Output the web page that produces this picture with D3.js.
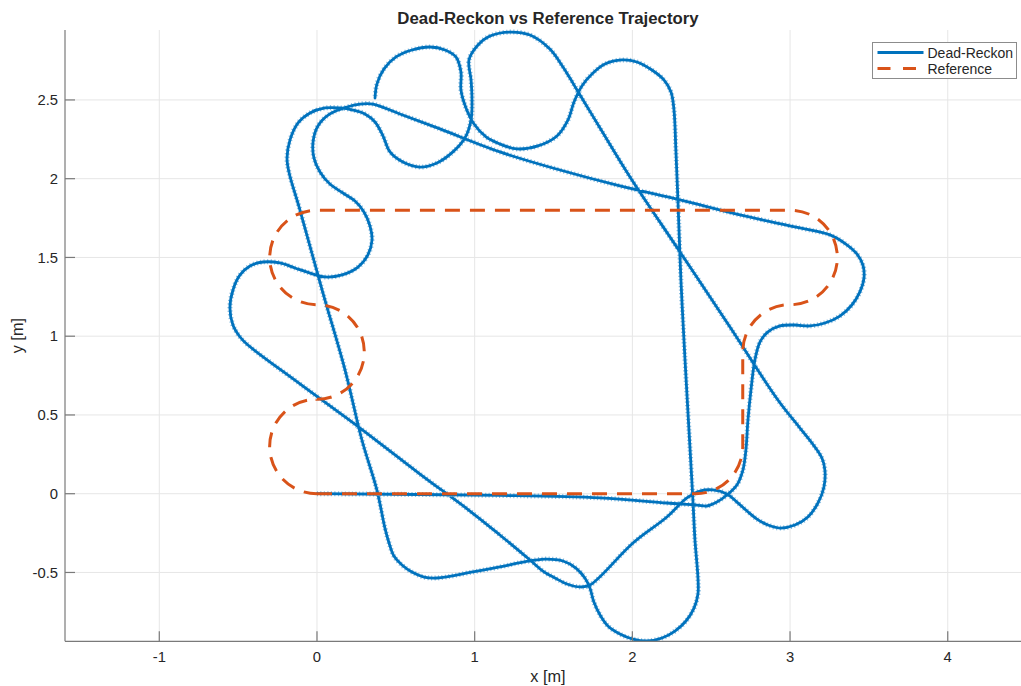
<!DOCTYPE html>
<html>
<head>
<meta charset="utf-8">
<script src="https://cdn.jsdelivr.net/npm/d3@7"></script>
<style>
  html, body { margin: 0; padding: 0; background: #ffffff; }
  svg { display: block; font-family: "Liberation Sans", Arial, Helvetica, sans-serif; }
</style>
</head>
<body>
<svg id="chart" width="1021" height="686"></svg>
<script>
// ---- data -------------------------------------------------------------
const titleText = "Dead-Reckon vs Reference Trajectory";
const xLabelText = "x [m]";
const yLabelText = "y [m]";
const seriesNames = ["Dead-Reckon", "Reference"];

const xTicks = [-1, 0, 1, 2, 3, 4];
const yTicks = [-0.5, 0, 0.5, 1, 1.5, 2, 2.5];
const xLimits = [-1.598, 4.528];
const yLimits = [-0.937, 2.944];

// Dead-reckoned trajectory, one array per lap (x, y in metres)
const lap1 = [
  [0, 0], [1.160, -0.011], [1.795, -0.027], [2.219, -0.059], [2.410, -0.072],
  [2.473, -0.078], [2.536, -0.053], [2.600, -0.008], [2.663, 0.055], [2.701, 0.150],
  [2.720, 0.277], [2.733, 0.468], [2.752, 0.658], [2.777, 0.849], [2.809, 0.963],
  [2.860, 1.027], [2.936, 1.065], [3.031, 1.071], [3.126, 1.065], [3.221, 1.084],
  [3.316, 1.128], [3.392, 1.198], [3.443, 1.281], [3.469, 1.370], [3.462, 1.452],
  [3.424, 1.522], [3.354, 1.585], [3.253, 1.643], [3.063, 1.687], [2.682, 1.770],
  [2.302, 1.865], [1.921, 1.954], [1.541, 2.055], [1.160, 2.170], [0.780, 2.316],
  [0.526, 2.411], [0.355, 2.474],
  [0.273, 2.474], [0.190, 2.455], [0.082, 2.411], [0.006, 2.335], [-0.025, 2.233],
  [-0.019, 2.131], [0.019, 2.043], [0.082, 1.966], [0.165, 1.909], [0.241, 1.858],
  [0.298, 1.789], [0.336, 1.700], [0.349, 1.611], [0.323, 1.516], [0.260, 1.439],
  [0.159, 1.389], [0.051, 1.376], [-0.044, 1.401], [-0.140, 1.433], [-0.235, 1.465],
  [-0.342, 1.471], [-0.425, 1.446], [-0.488, 1.389], [-0.533, 1.293], [-0.552, 1.179],
  [-0.533, 1.071], [-0.488, 0.995], [-0.438, 0.944]
];
const lap2 = [
  [-0.108, 0.697], [0.273, 0.417], [0.653, 0.125], [0.970, -0.110], [1.160, -0.262],
  [1.351, -0.421], [1.433, -0.491], [1.509, -0.535], [1.585, -0.573], [1.668, -0.592],
  [1.731, -0.580], [2.004, -0.313], [2.219, -0.148], [2.346, -0.027], [2.429, 0.017],
  [2.511, 0.024], [2.600, -0.002], [2.663, -0.053], [2.727, -0.110], [2.790, -0.161],
  [2.860, -0.199], [2.936, -0.218], [3.031, -0.199], [3.113, -0.148], [3.177, -0.059],
  [3.215, 0.043], [3.221, 0.150], [3.202, 0.227], [3.139, 0.322], [3.063, 0.417],
  [2.923, 0.595], [2.619, 1.058], [2.302, 1.535], [1.985, 2.011], [1.795, 2.322],
  [1.718, 2.449], [1.649, 2.563],
  [1.604, 2.639], [1.560, 2.709], [1.477, 2.823], [1.351, 2.912], [1.224, 2.931],
  [1.097, 2.906], [1.021, 2.849], [0.964, 2.754], [0.977, 2.627], [0.983, 2.500],
  [0.977, 2.373], [0.938, 2.258], [0.862, 2.170], [0.761, 2.100], [0.653, 2.074],
  [0.545, 2.106], [0.463, 2.170], [0.419, 2.271], [0.368, 2.360], [0.304, 2.411],
  [0.228, 2.436], [0.146, 2.449],
  [0.051, 2.449], [-0.044, 2.417], [-0.120, 2.354], [-0.171, 2.246], [-0.190, 2.131],
  [-0.178, 2.043]
];
const lap3 = [
  [-0.108, 1.801], [0.038, 1.274], [0.178, 0.785], [0.285, 0.341], [0.380, 0.023],
  [0.431, -0.218], [0.457, -0.313], [0.488, -0.396], [0.539, -0.453], [0.602, -0.497],
  [0.679, -0.529], [0.761, -0.535], [0.989, -0.497], [1.160, -0.465], [1.306, -0.434],
  [1.446, -0.415], [1.560, -0.427], [1.642, -0.472], [1.699, -0.535], [1.731, -0.599],
  [1.756, -0.688], [1.795, -0.770], [1.845, -0.840], [1.921, -0.891], [2.004, -0.923],
  [2.093, -0.935], [2.188, -0.916], [2.270, -0.872], [2.340, -0.808], [2.391, -0.726],
  [2.416, -0.637], [2.416, -0.535], [2.397, -0.294], [2.384, -0.040], [2.359, 0.404],
  [2.334, 0.849], [2.308, 1.357], [2.289, 1.865], [2.276, 2.182], [2.264, 2.436],
  [2.245, 2.550], [2.200, 2.627], [2.124, 2.690], [2.029, 2.741], [1.934, 2.754],
  [1.826, 2.728], [1.744, 2.665], [1.680, 2.589],
  [1.630, 2.487], [1.592, 2.373], [1.522, 2.271], [1.401, 2.208], [1.268, 2.189],
  [1.160, 2.220], [1.072, 2.265], [0.996, 2.347], [0.945, 2.449], [0.913, 2.563],
  [0.913, 2.677],
  [0.881, 2.773], [0.812, 2.817], [0.717, 2.836], [0.602, 2.817], [0.501, 2.773],
  [0.425, 2.697], [0.380, 2.601], [0.368, 2.512]
];

// Reference track: straight legs and circular arcs
// ["L", x, y] line to; ["A", cx, cy, r, startDeg, endDeg] arc (angles counter-clockwise)
const referenceStart = [0, 0];
const referenceSegments = [
  ["L", 2.4, 0],
  ["A", 2.4, 0.3, 0.3, -90, 0],
  ["L", 2.7, 0.9],
  ["A", 3.0, 0.9, 0.3, 180, 90],
  ["A", 3.0, 1.5, 0.3, -90, 90],
  ["L", 0, 1.8],
  ["A", 0, 1.5, 0.3, 90, 270],
  ["A", 0, 0.9, 0.3, 90, -90],
  ["A", 0, 0.3, 0.3, 90, 270]
];

// ---- layout -------------------------------------------------------------
const plot = { left: 65, right: 1031, top: 30, bottom: 641.3 };
const colors = { dr: "#0072BD", ref: "#D95319", axis: "#7a7a7a", grid: "#e6e6e6", text: "#262626" };

const svg = d3.select("#chart");
const x = d3.scaleLinear().domain(xLimits).range([plot.left, plot.right]);
const y = d3.scaleLinear().domain(yLimits).range([plot.bottom, plot.top]);

svg.append("defs").append("clipPath").attr("id", "plot-clip")
  .append("rect")
  .attr("x", plot.left).attr("y", plot.top - 2)
  .attr("width", plot.right - plot.left).attr("height", plot.bottom - plot.top + 2);

// grid
const grid = svg.append("g");
grid.selectAll("line.gx").data(xTicks).join("line")
  .attr("x1", d => x(d)).attr("x2", d => x(d))
  .attr("y1", plot.top).attr("y2", plot.bottom)
  .attr("stroke", colors.grid).attr("stroke-width", 1);
grid.selectAll("line.gy").data(yTicks).join("line")
  .attr("x1", plot.left).attr("x2", plot.right)
  .attr("y1", d => y(d)).attr("y2", d => y(d))
  .attr("stroke", colors.grid).attr("stroke-width", 1);

// data layer
const data = svg.append("g").attr("clip-path", "url(#plot-clip)");
const track = lap1.concat(lap2, lap3);
const line = d3.line().x(d => x(d[0])).y(d => y(d[1])).curve(d3.curveCatmullRom.alpha(0.5));
const trackPath = line(track);

// sensor jitter: a soft toothed halo beneath the main stroke
data.append("path")
  .attr("d", trackPath)
  .attr("fill", "none")
  .attr("stroke", colors.dr)
  .attr("stroke-width", 5)
  .attr("stroke-opacity", 0.45)
  .attr("stroke-dasharray", "1.2,2.3");
data.append("path")
  .attr("d", trackPath)
  .attr("fill", "none")
  .attr("stroke", colors.dr)
  .attr("stroke-width", 2.8)
  .attr("stroke-linejoin", "round")
  .attr("stroke-linecap", "round");

// reference path built with d3.path so the dash pattern runs continuously
const k = x(1) - x(0);
const rp = d3.path();
rp.moveTo(x(referenceStart[0]), y(referenceStart[1]));
referenceSegments.forEach(s => {
  if (s[0] === "L") {
    rp.lineTo(x(s[1]), y(s[2]));
  } else {
    const a0 = -s[4] * Math.PI / 180, a1 = -s[5] * Math.PI / 180;
    rp.arc(x(s[1]), y(s[2]), s[3] * k, a0, a1, s[5] > s[4]);
  }
});
data.append("path")
  .attr("d", rp.toString())
  .attr("fill", "none")
  .attr("stroke", colors.ref)
  .attr("stroke-width", 3)
  .attr("stroke-dasharray", "15,10");

// axes (left and bottom only, ticks pointing inward)
const axes = svg.append("g");
axes.append("line")
  .attr("x1", plot.left).attr("x2", plot.left)
  .attr("y1", plot.top).attr("y2", plot.bottom)
  .attr("stroke", colors.axis).attr("stroke-width", 1.2);
axes.append("line")
  .attr("x1", plot.left).attr("x2", plot.right)
  .attr("y1", plot.bottom).attr("y2", plot.bottom)
  .attr("stroke", colors.axis).attr("stroke-width", 1.2);

axes.selectAll("line.tx").data(xTicks).join("line")
  .attr("x1", d => x(d)).attr("x2", d => x(d))
  .attr("y1", plot.bottom).attr("y2", plot.bottom - 10)
  .attr("stroke", colors.axis).attr("stroke-width", 1.2);
axes.selectAll("line.ty").data(yTicks).join("line")
  .attr("x1", plot.left).attr("x2", plot.left + 10)
  .attr("y1", d => y(d)).attr("y2", d => y(d))
  .attr("stroke", colors.axis).attr("stroke-width", 1.2);

axes.selectAll("text.tx").data(xTicks).join("text")
  .attr("x", d => x(d)).attr("y", plot.bottom + 20.5)
  .attr("text-anchor", "middle")
  .attr("font-size", 14.8).attr("fill", colors.text)
  .text(d => String(d));
axes.selectAll("text.ty").data(yTicks).join("text")
  .attr("x", plot.left - 7).attr("y", d => y(d) + 5.2)
  .attr("text-anchor", "end")
  .attr("font-size", 14.8).attr("fill", colors.text)
  .text(d => String(d));

// labels and title
const midX = (plot.left + plot.right) / 2;
svg.append("text").attr("x", midX).attr("y", 682)
  .attr("text-anchor", "middle").attr("font-size", 16.3).attr("fill", colors.text)
  .text(xLabelText);
svg.append("text")
  .attr("transform", `translate(23, ${(plot.top + plot.bottom) / 2}) rotate(-90)`)
  .attr("text-anchor", "middle").attr("font-size", 16.3).attr("fill", colors.text)
  .text(yLabelText);
svg.append("text").attr("x", midX).attr("y", 24)
  .attr("text-anchor", "middle").attr("font-size", 16.8).attr("font-weight", "bold")
  .attr("fill", colors.text)
  .text(titleText);

// legend
const lg = svg.append("g").attr("transform", "translate(872.5, 42.5)");
lg.append("rect").attr("width", 144).attr("height", 36)
  .attr("fill", "#ffffff").attr("stroke", "#8c8c8c").attr("stroke-width", 1);
const legendStyles = [
  { color: colors.dr, dash: null },
  { color: colors.ref, dash: "13,12.5" }
];
seriesNames.forEach((name, i) => {
  const cy = 10 + i * 16;
  lg.append("line").attr("x1", 5).attr("x2", 51).attr("y1", cy).attr("y2", cy)
    .attr("stroke", legendStyles[i].color).attr("stroke-width", i === 0 ? 2.8 : 3)
    .attr("stroke-dasharray", legendStyles[i].dash);
  lg.append("text").attr("x", 55).attr("y", cy + 5)
    .attr("font-size", 14).attr("fill", colors.text).text(name);
});
</script>
</body>
</html>
